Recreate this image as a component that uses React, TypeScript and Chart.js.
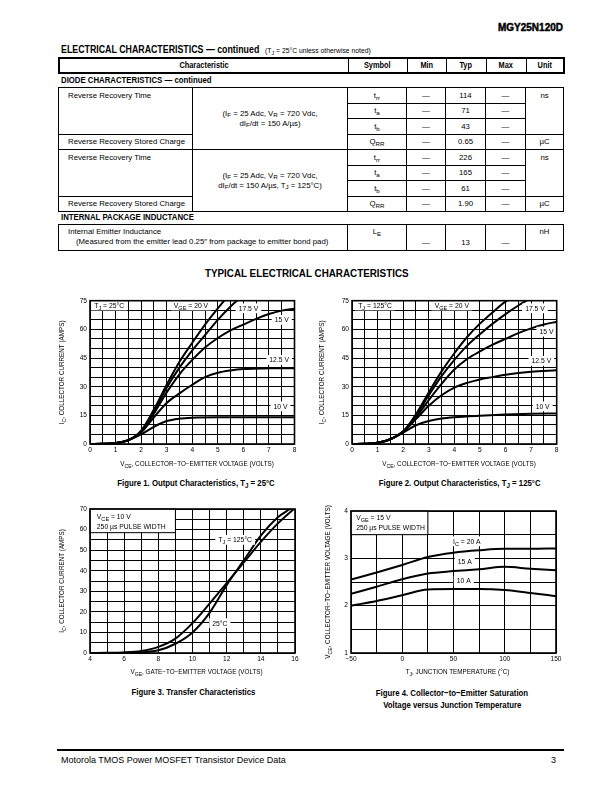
import React, { useEffect, useRef } from "react";
import { Chart, registerables } from "chart.js";

Chart.register(...registerables);

const FF = "'Liberation Sans', Arial, Helvetica, sans-serif";

// ---------------- Table data ----------------
const tableHeaders = ["Characteristic", "Symbol", "Min", "Typ", "Max", "Unit"];
const diodeSymbols = ["t_{rr}", "t_{a}", "t_{b}", "Q_{RR}"];
const diodeTyp25 = ["114", "71", "43", "0.65"];
const diodeTyp125 = ["226", "165", "61", "1.90"];
const inductanceTyp = "13";

// ---------------- Figure 1 : Output characteristics, TJ = 25°C ----------------
const f1Vce10 = [0, 0.5, 1, 1.5, 2, 2.5, 3, 3.5, 4, 5, 6, 7, 8];
const f1Ic10 = [0, 0.1, 0.5, 2, 5, 9, 12, 13.3, 13.8, 14, 14, 14, 14];
const f1Vce125 = [0, 0.5, 1, 1.5, 2, 2.5, 3, 3.5, 4, 4.5, 5, 5.5, 6, 7, 8];
const f1Ic125 = [0, 0.1, 0.5, 2, 6, 14, 21.5, 26.5, 31, 35, 37.3, 38.5, 39.2, 39.6, 39.7];
const f1Vce15 = [0, 0.5, 1, 1.5, 2, 2.5, 3, 3.5, 4, 4.5, 5, 5.5, 6, 6.5, 7, 7.5, 8];
const f1Ic15 = [0, 0.1, 0.5, 2, 6.5, 16, 27, 36.5, 44, 50.5, 55.5, 59.5, 62.5, 65.5, 68, 69.8, 70.8];
const f1Vce175 = [0, 0.5, 1, 1.5, 2, 2.5, 3, 3.5, 4, 4.5, 5, 5.5, 6];
const f1Ic175 = [0, 0.1, 0.5, 2, 6.5, 17, 29.5, 40, 49, 57, 65, 72, 78];
const f1Vce20 = [0, 0.5, 1, 1.5, 2, 2.5, 3, 3.5, 4, 4.5, 5, 5.5];
const f1Ic20 = [0, 0.1, 0.5, 2, 7, 18, 31, 43, 53, 62.5, 71, 79];

// ---------------- Figure 2 : Output characteristics, TJ = 125°C ----------------
const f2Vce10 = [0, 0.5, 1, 1.5, 2, 2.5, 3, 3.5, 4, 5, 6, 7, 8];
const f2Ic10 = [0, 0.1, 0.6, 2.5, 6, 9.8, 12, 13.3, 14, 14.8, 15.4, 15.8, 16];
const f2Vce125 = [0, 0.5, 1, 1.5, 2, 2.5, 3, 3.5, 4, 4.5, 5, 5.5, 6, 7, 8];
const f2Ic125 = [0, 0.1, 0.6, 2.5, 6.5, 13, 20, 25.5, 29.5, 32, 33.8, 35, 36.2, 37.8, 38.6];
const f2Vce15 = [0, 0.5, 1, 1.5, 2, 2.5, 3, 3.5, 4, 4.5, 5, 5.5, 6, 6.5, 7, 7.5, 8];
const f2Ic15 = [0, 0.1, 0.6, 2.5, 6.5, 14, 23, 31.5, 39, 44.5, 48.5, 52, 55, 58, 60.5, 62.5, 64];
const f2Vce175 = [0, 0.5, 1, 1.5, 2, 2.5, 3, 3.5, 4, 4.5, 5, 5.5, 6, 6.5, 7];
const f2Ic175 = [0, 0.1, 0.6, 2.5, 6.5, 15, 25.5, 35.5, 44, 51.5, 57.5, 63, 68, 72.5, 76.5];
const f2Vce20 = [0, 0.5, 1, 1.5, 2, 2.5, 3, 3.5, 4, 4.5, 5, 5.5, 6, 6.5];
const f2Ic20 = [0, 0.1, 0.6, 2.5, 6.5, 15.5, 27, 38, 47.5, 56, 63, 69, 74.5, 78];

// ---------------- Figure 3 : Transfer characteristics ----------------
const f3Vge25 = [4, 5, 6, 7, 8, 9, 10, 11, 12, 13, 14, 15, 15.7];
const f3Ic25 = [0, 0, 0.1, 0.4, 1.3, 4.5, 10, 19.5, 33, 45, 57, 66, 70];
const f3Vge125 = [4, 5, 6, 7, 8, 9, 10, 11, 12, 13, 14, 15, 16];
const f3Ic125 = [0, 0.1, 0.3, 1, 3, 7, 14.5, 24, 34, 44, 54, 63, 70.5];

// ---------------- Figure 4 : VCE(sat) vs junction temperature ----------------
const f4Tj = [-50, -25, 0, 25, 50, 75, 100, 125, 150];
const f4Vce20A = [2.55, 2.7, 2.86, 3.03, 3.12, 3.17, 3.2, 3.2, 3.21];
const f4Vce15A = [2.25, 2.4, 2.56, 2.68, 2.73, 2.77, 2.82, 2.78, 2.75];
const f4Vce10A = [2.0, 2.1, 2.22, 2.34, 2.35, 2.35, 2.33, 2.27, 2.2];

// ---------------- Tick labels ----------------
const f12XLabels = [0, 1, 2, 3, 4, 5, 6, 7, 8];
const f12YLabels = [0, 15, 30, 45, 60, 75];
const f3XLabels = [4, 6, 8, 10, 12, 14, 16];
const f3YLabels = [0, 10, 20, 30, 40, 50, 60, 70];
const f4XLabels = [-50, 0, 50, 100, 150];
const f4YLabels = [1, 2, 3, 4];

type Pt = { x: number; y: number };
type Note = { x: number; y: number; text: string };
type Panel = { x0: number; x1: number; y0: number; y1: number; tx: number; lines: { y: number; text: string }[] };

const zip = (xs: number[], ys: number[]): Pt[] => xs.map((x, i) => ({ x, y: ys[i] }));

// ---------------- Curve labels ----------------
const f1Notes: Note[] = [
  { x: 0.75, y: 72.5, text: "T_{J} = 25°C" },
  { x: 3.95, y: 72.5, text: "V_{GE} = 20 V" },
  { x: 6.2, y: 71, text: "17.5 V" },
  { x: 7.5, y: 65, text: "15 V" },
  { x: 7.4, y: 44, text: "12.5 V" },
  { x: 7.45, y: 19.7, text: "10 V" },
];
const f2Notes: Note[] = [
  { x: 0.9, y: 72.5, text: "T_{J} = 125°C" },
  { x: 3.9, y: 72.5, text: "V_{GE} = 20 V" },
  { x: 7.15, y: 71, text: "17.5 V" },
  { x: 7.6, y: 58.8, text: "15 V" },
  { x: 7.4, y: 43.5, text: "12.5 V" },
  { x: 7.45, y: 19.7, text: "10 V" },
];
const f3Notes: Note[] = [
  { x: 12.5, y: 55, text: "T_{J} = 125°C" },
  { x: 11.6, y: 14.5, text: "25°C" },
];
const f3Panel: Panel = {
  x0: 4, x1: 9, y0: 58.5, y1: 70, tx: 4.4,
  lines: [{ y: 66.3, text: "V_{CE} = 10 V" }, { y: 61.5, text: "250 µs PULSE WIDTH" }],
};
const f4Notes: Note[] = [
  { x: 63, y: 3.36, text: "I_{C} = 20 A" },
  { x: 61, y: 2.93, text: "15 A" },
  { x: 60, y: 2.53, text: "10 A" },
];
const f4Panel: Panel = {
  x0: -50, x1: 25, y0: 3.5, y1: 4, tx: -45,
  lines: [{ y: 3.86, text: "V_{GE} = 15 V" }, { y: 3.66, text: "250 µs PULSE WIDTH" }],
};

// ---------------- rich text helpers ----------------
function parseRich(s: string) {
  const out: { t: string; sub: boolean }[] = [];
  const re = /_\{([^}]*)\}/g;
  let last = 0;
  let m: RegExpExecArray | null;
  while ((m = re.exec(s))) {
    if (m.index > last) out.push({ t: s.slice(last, m.index), sub: false });
    out.push({ t: m[1], sub: true });
    last = re.lastIndex;
  }
  if (last < s.length) out.push({ t: s.slice(last), sub: false });
  return out;
}

const SUB = 0.82;
function setFont(ctx: CanvasRenderingContext2D, size: number) {
  ctx.font = `${size}px ${FF}`;
}
function richWidth(ctx: CanvasRenderingContext2D, s: string, size: number) {
  let w = 0;
  for (const g of parseRich(s)) {
    setFont(ctx, g.sub ? size * SUB : size);
    w += ctx.measureText(g.t).width;
  }
  return w;
}
function drawRich(ctx: CanvasRenderingContext2D, s: string, x: number, y: number, size: number, align: string) {
  const w = richWidth(ctx, s, size);
  let cx = align === "center" ? x - w / 2 : align === "right" ? x - w : x;
  const base = y + size * 0.36;
  ctx.textBaseline = "alphabetic";
  ctx.textAlign = "left";
  ctx.fillStyle = "#000";
  for (const g of parseRich(s)) {
    const sz = g.sub ? size * SUB : size;
    setFont(ctx, sz);
    ctx.fillText(g.t, cx, g.sub ? base + size * 0.28 : base);
    cx += ctx.measureText(g.t).width;
  }
  return w;
}

function Rich({ s }: { s: string }) {
  return (
    <>
      {parseRich(s).map((g, i) =>
        g.sub ? (
          <span key={i} style={{ fontSize: "0.8em", position: "relative", top: "0.3em" }}>{g.t}</span>
        ) : (
          <React.Fragment key={i}>{g.t}</React.Fragment>
        )
      )}
    </>
  );
}

// ---------------- Chart figure ----------------
interface FigSpec {
  pos: { left: number; top: number; w: number; h: number };
  area: { l: number; r: number; t: number; b: number };
  xr: [number, number, number];
  yr: [number, number, number];
  xLabels: number[];
  yLabels: number[];
  series: Pt[][];
  notes: Note[];
  panel?: Panel;
  xTitle: string;
  xTitleAt: [number, number];
  yTitle: string;
  yTitleX: number;
}

const fmt = (v: number) => (v < 0 ? "\u2212" + Math.abs(v) : String(v));
const labelFor = (v: number, list: number[]) => {
  const hit = list.find((L) => Math.abs(L - v) < 1e-6);
  return hit === undefined ? "" : fmt(hit);
};

const TICK = 6.6;
const TITLE = 6.3;
const NOTE = 6.8;

function Figure({ spec }: { spec: FigSpec }) {
  const ref = useRef<HTMLCanvasElement>(null);
  useEffect(() => {
    const s = spec;
    const overlay = {
      id: "overlay",
      afterDatasetsDraw(chart: any) {
        const ctx: CanvasRenderingContext2D = chart.ctx;
        const xs = chart.scales.x;
        const ys = chart.scales.y;
        const ca = chart.chartArea;
        ctx.save();
        if (s.panel) {
          const p = s.panel;
          const x0 = xs.getPixelForValue(p.x0);
          const x1 = xs.getPixelForValue(p.x1);
          const y0 = ys.getPixelForValue(p.y0);
          const y1 = ys.getPixelForValue(p.y1);
          ctx.fillStyle = "#fff";
          ctx.fillRect(x0, y1, x1 - x0, y0 - y1);
          ctx.strokeStyle = "#000";
          ctx.lineWidth = 1;
          ctx.strokeRect(x0, y1, x1 - x0, y0 - y1);
          for (const l of p.lines) drawRich(ctx, l.text, xs.getPixelForValue(p.tx), ys.getPixelForValue(l.y), NOTE, "left");
        }
        for (const n of s.notes) {
          const px = xs.getPixelForValue(n.x);
          const py = ys.getPixelForValue(n.y);
          const w = richWidth(ctx, n.text, NOTE);
          ctx.fillStyle = "#fff";
          ctx.fillRect(px - w / 2 - 3, py - NOTE * 0.72, w + 6, NOTE * 1.44);
          drawRich(ctx, n.text, px, py, NOTE, "center");
        }
        ctx.strokeStyle = "#000";
        ctx.lineWidth = 1.6;
        ctx.strokeRect(ca.left, ca.top, ca.right - ca.left, ca.bottom - ca.top);
        drawRich(ctx, s.xTitle, s.xTitleAt[0], s.xTitleAt[1], TITLE, "center");
        ctx.translate(s.yTitleX, (ca.top + ca.bottom) / 2);
        ctx.rotate(-Math.PI / 2);
        drawRich(ctx, s.yTitle, 0, 0, TITLE, "center");
        ctx.restore();
      },
    };
    const tickFont = { family: FF, size: TICK };
    const chart = new Chart(ref.current as HTMLCanvasElement, {
      type: "line",
      data: {
        datasets: s.series.map((d) => ({
          data: d,
          borderColor: "#000",
          borderWidth: 2,
          pointRadius: 0,
          fill: false,
          cubicInterpolationMode: "monotone",
        })),
      } as any,
      options: {
        responsive: false,
        animation: false,
        devicePixelRatio: 1,
        events: [],
        layout: { padding: { left: 0, top: s.area.t, right: s.pos.w - s.area.r, bottom: 0 } },
        plugins: { legend: { display: false }, tooltip: { enabled: false }, title: { display: false } },
        scales: {
          x: {
            type: "linear",
            min: s.xr[0],
            max: s.xr[1],
            ticks: {
              stepSize: s.xr[2],
              autoSkip: false,
              maxRotation: 0,
              minRotation: 0,
              padding: 2,
              color: "#000",
              font: tickFont,
              callback: (v: any) => labelFor(Number(v), s.xLabels),
            },
            grid: { color: "#000", lineWidth: 1, drawTicks: false },
            border: { display: false },
            afterFit: (sc: any) => {
              sc.height = s.pos.h - s.area.b;
            },
          },
          y: {
            type: "linear",
            min: s.yr[0],
            max: s.yr[1],
            ticks: {
              stepSize: s.yr[2],
              autoSkip: false,
              padding: 3,
              color: "#000",
              font: tickFont,
              callback: (v: any) => labelFor(Number(v), s.yLabels),
            },
            grid: { color: "#000", lineWidth: 1, drawTicks: false },
            border: { display: false },
            afterFit: (sc: any) => {
              sc.width = s.area.l;
            },
          },
        },
      } as any,
      plugins: [overlay],
    });
    return () => chart.destroy();
  }, [spec]);
  const p = spec.pos;
  return (
    <canvas
      ref={ref}
      width={p.w}
      height={p.h}
      style={{ position: "absolute", left: p.left, top: p.top, width: p.w, height: p.h, display: "block" }}
    />
  );
}

const fig1: FigSpec = {
  pos: { left: 55, top: 290, w: 250, h: 185 },
  area: { l: 35, r: 239.5, t: 10.7, b: 154 },
  xr: [0, 8, 0.5],
  yr: [0, 75, 5],
  xLabels: f12XLabels,
  yLabels: f12YLabels,
  series: [zip(f1Vce10, f1Ic10), zip(f1Vce125, f1Ic125), zip(f1Vce15, f1Ic15), zip(f1Vce175, f1Ic175), zip(f1Vce20, f1Ic20)],
  notes: f1Notes,
  xTitle: "V_{CE}, COLLECTOR\u2212TO\u2212EMITTER VOLTAGE (VOLTS)",
  xTitleAt: [142, 174],
  yTitle: "I_{C}, COLLECTOR CURRENT (AMPS)",
  yTitleX: 7,
};
const fig2: FigSpec = {
  pos: { left: 317, top: 290, w: 250, h: 185 },
  area: { l: 35, r: 239.7, t: 10.7, b: 154 },
  xr: [0, 8, 0.5],
  yr: [0, 75, 5],
  xLabels: f12XLabels,
  yLabels: f12YLabels,
  series: [zip(f2Vce10, f2Ic10), zip(f2Vce125, f2Ic125), zip(f2Vce15, f2Ic15), zip(f2Vce175, f2Ic175), zip(f2Vce20, f2Ic20)],
  notes: f2Notes,
  xTitle: "V_{CE}, COLLECTOR\u2212TO\u2212EMITTER VOLTAGE (VOLTS)",
  xTitleAt: [142, 174],
  yTitle: "I_{C}, COLLECTOR CURRENT (AMPS)",
  yTitleX: 5,
};
const fig3: FigSpec = {
  pos: { left: 55, top: 498, w: 250, h: 185 },
  area: { l: 35, r: 240, t: 11, b: 155 },
  xr: [4, 16, 1],
  yr: [0, 70, 5],
  xLabels: f3XLabels,
  yLabels: f3YLabels,
  series: [zip(f3Vge25, f3Ic25), zip(f3Vge125, f3Ic125)],
  notes: f3Notes,
  panel: f3Panel,
  xTitle: "V_{GE}, GATE\u2212TO\u2212EMITTER VOLTAGE (VOLTS)",
  xTitleAt: [141.5, 174],
  yTitle: "I_{C}, COLLECTOR CURRENT (AMPS)",
  yTitleX: 7,
};
const fig4: FigSpec = {
  pos: { left: 316, top: 490, w: 250, h: 195 },
  area: { l: 35, r: 240, t: 21, b: 163 },
  xr: [-50, 150, 25],
  yr: [1, 4, 0.5],
  xLabels: f4XLabels,
  yLabels: f4YLabels,
  series: [zip(f4Tj, f4Vce20A), zip(f4Tj, f4Vce15A), zip(f4Tj, f4Vce10A)],
  notes: f4Notes,
  panel: f4Panel,
  xTitle: "T_{J}, JUNCTION TEMPERATURE (°C)",
  xTitleAt: [141.5, 182],
  yTitle: "V_{CE}, COLLECTOR\u2212TO\u2212EMITTER VOLTAGE (VOLTS)",
  yTitleX: 12,
};

// ---------------- HTML text helpers ----------------
function Txt(props: any) {
  const { left, cx, right, cy, size, bold, narrow, children } = props;
  const style: React.CSSProperties = {
    position: "absolute",
    top: cy - size * 0.56,
    fontSize: size,
    lineHeight: `${size * 1.12}px`,
    whiteSpace: "nowrap",
    fontWeight: bold ? "bold" : "normal",
  };
  let origin = "left center";
  if (cx !== undefined) {
    style.left = cx - 200;
    style.width = 400;
    style.textAlign = "center";
    origin = "center center";
  } else if (right !== undefined) {
    style.right = 612 - right;
    style.textAlign = "right";
    origin = "right center";
  } else style.left = left;
  const inner = narrow ? (
    <span style={{ display: "inline-block", transform: `scaleX(${narrow})`, transformOrigin: origin }}>{children}</span>
  ) : (
    children
  );
  return <div style={style}>{inner}</div>;
}

const B = "1px solid #000";
const cell = (extra: React.CSSProperties = {}): React.CSSProperties => ({
  border: B,
  padding: 0,
  fontSize: 7.8,
  lineHeight: "9px",
  textAlign: "center",
  verticalAlign: "middle",
  whiteSpace: "nowrap",
  ...extra,
});
const charTop = cell({ textAlign: "left", verticalAlign: "top", paddingLeft: 9, paddingTop: 3 });
const charMid = cell({ textAlign: "left", paddingLeft: 9 });
const unitTop = cell({ verticalAlign: "top", paddingTop: 3 });

const mainCols = [134, 155, 59, 39, 40, 40, 38];
const wideCols = [289, 59, 39, 40, 40, 38];

function Cols({ w }: { w: number[] }) {
  return (
    <colgroup>
      {w.map((x, i) => (
        <col key={i} style={{ width: x }} />
      ))}
    </colgroup>
  );
}

function diodeRows(typ: string[], cond: React.ReactNode, kp: string) {
  return diodeSymbols.map((sym, i) => (
    <tr key={kp + i} style={{ height: 15.5 }}>
      {i === 0 && (
        <td rowSpan={3} style={charTop}>
          Reverse Recovery Time
        </td>
      )}
      {i === 3 && <td style={charMid}>Reverse Recovery Stored Charge</td>}
      {i === 0 && (
        <td rowSpan={4} style={cell({ lineHeight: "10px" })}>
          {cond}
        </td>
      )}
      <td style={cell()}>
        <Rich s={sym} />
      </td>
      <td style={cell()}>—</td>
      <td style={cell()}>{typ[i]}</td>
      <td style={cell()}>—</td>
      {i === 0 && (
        <td rowSpan={3} style={unitTop}>
          ns
        </td>
      )}
      {i === 3 && <td style={cell()}>µC</td>}
    </tr>
  ));
}

const tableStyle = (top: number, thick = 1.5): React.CSSProperties => ({
  position: "absolute",
  left: 58,
  top,
  width: 505,
  borderCollapse: "collapse",
  tableLayout: "fixed",
  border: `${thick}px solid #000`,
});

export default function App() {
  return (
    <div
      style={{
        position: "absolute",
        left: 0,
        top: 0,
        width: 612,
        height: 792,
        background: "#fff",
        color: "#000",
        fontFamily: FF,
        overflow: "hidden",
      }}
    >
      <Txt right={563} cy={28} size={10} bold>
        <span style={{ WebkitTextStroke: "0.45px #000" }}>MGY25N120D</span>
      </Txt>

      <Txt left={61} cy={50} size={10.5} bold narrow={0.84}>
        ELECTRICAL CHARACTERISTICS — continued
      </Txt>
      <Txt left={265} cy={51} size={6.8}>
        <Rich s="(T_{J} = 25°C unless otherwise noted)" />
      </Txt>

      <table style={tableStyle(57, 2)}>
        <Cols w={wideCols} />
        <tbody>
          <tr style={{ height: 15 }}>
            {tableHeaders.map((h) => (
              <td key={h} style={cell({ border: "1.5px solid #000", fontWeight: "bold", fontSize: 9 })}>
                <span style={{ display: "inline-block", transform: "scaleX(0.82)" }}>{h}</span>
              </td>
            ))}
          </tr>
        </tbody>
      </table>

      <Txt left={61} cy={80} size={9.5} bold narrow={0.82}>
        DIODE CHARACTERISTICS — continued
      </Txt>

      <table style={tableStyle(87)}>
        <Cols w={mainCols} />
        <tbody>
          {diodeRows(
            diodeTyp25,
            <>
              (<Rich s="I_{F} = 25 Adc, V_{R} = 720 Vdc," />
              <br />
              <Rich s="dI_{F}/dt = 150 A/µs)" />
            </>,
            "a"
          )}
          {diodeRows(
            diodeTyp125,
            <>
              (<Rich s="I_{F} = 25 Adc, V_{R} = 720 Vdc," />
              <br />
              <Rich s="dI_{F}/dt = 150 A/µs, T_{J} = 125°C)" />
            </>,
            "b"
          )}
        </tbody>
      </table>

      <Txt left={61} cy={217} size={9.5} bold narrow={0.82}>
        INTERNAL PACKAGE INDUCTANCE
      </Txt>

      <table style={tableStyle(224)}>
        <Cols w={wideCols} />
        <tbody>
          <tr style={{ height: 26 }}>
            <td style={cell({ textAlign: "left", verticalAlign: "top", paddingLeft: 9, paddingTop: 2, lineHeight: "10px" })}>
              Internal Emitter Inductance
              <br />
              <span style={{ paddingLeft: 8 }}>(Measured from the emitter lead 0.25″ from package to emitter bond pad)</span>
            </td>
            <td style={cell({ verticalAlign: "top", paddingTop: 2 })}>
              <Rich s="L_{E}" />
            </td>
            <td style={cell({ verticalAlign: "bottom", paddingBottom: 3 })}>—</td>
            <td style={cell({ verticalAlign: "bottom", paddingBottom: 3 })}>{inductanceTyp}</td>
            <td style={cell({ verticalAlign: "bottom", paddingBottom: 3 })}>—</td>
            <td style={cell({ verticalAlign: "top", paddingTop: 2 })}>nH</td>
          </tr>
        </tbody>
      </table>

      <Txt cx={307} cy={273} size={11} bold narrow={0.895}>
        TYPICAL ELECTRICAL CHARACTERISTICS
      </Txt>

      <Figure spec={fig1} />
      <Figure spec={fig2} />
      <Figure spec={fig3} />
      <Figure spec={fig4} />

      <Txt cx={196} cy={483} size={9.5} bold narrow={0.82}>
        <Rich s="Figure 1. Output Characteristics, T_{J} = 25°C" />
      </Txt>
      <Txt cx={460} cy={483} size={9.5} bold narrow={0.82}>
        <Rich s="Figure 2. Output Characteristics, T_{J} = 125°C" />
      </Txt>
      <Txt cx={194} cy={692} size={9.5} bold narrow={0.82}>
        Figure 3. Transfer Characteristics
      </Txt>
      <Txt cx={452} cy={693} size={9.5} bold narrow={0.82}>
        Figure 4. Collector−to−Emitter Saturation
      </Txt>
      <Txt cx={452} cy={705} size={9.5} bold narrow={0.82}>
        Voltage versus Junction Temperature
      </Txt>

      <div style={{ position: "absolute", left: 57, top: 749, width: 507, height: 2, background: "#000" }} />
      <Txt left={61} cy={760} size={9}>
        Motorola TMOS Power MOSFET Transistor Device Data
      </Txt>
      <Txt right={556} cy={760} size={9}>
        3
      </Txt>
    </div>
  );
}
